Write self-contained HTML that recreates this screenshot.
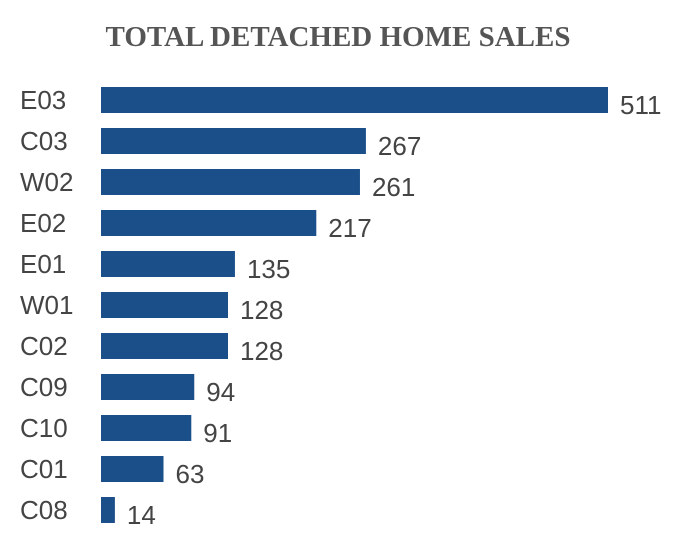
<!DOCTYPE html>
<html><head><meta charset="utf-8">
<style>
html,body{margin:0;padding:0;background:#fff;}
body{width:676px;height:545px;overflow:hidden;}
svg text{font-family:"Liberation Sans",sans-serif;}
</style></head>
<body>
<svg id="chart" width="676" height="545" xmlns="http://www.w3.org/2000/svg">
<text x="338" y="46" text-anchor="middle" style="font-family:'Liberation Serif',serif;font-weight:bold;font-size:29px;fill:#555;">TOTAL DETACHED HOME SALES</text>
<g id="bars"></g>
</svg>
<script>
const categories = ["E03","C03","W02","E02","E01","W01","C02","C09","C10","C01","C08"];
const values = [511,267,261,217,135,128,128,94,91,63,14];
const x0 = 101, pxPerUnit = 507/511;
function xScale(v){ return x0 + v*pxPerUnit; }
function yCenter(i){ return 100 + i*41; }
const g = document.getElementById('bars');
const ns = "http://www.w3.org/2000/svg";
categories.forEach((c,i)=>{
  const yc = yCenter(i);
  const lab = document.createElementNS(ns,'text');
  
  
  lab.setAttribute('x',20); lab.setAttribute('y',yc+9);
  lab.setAttribute('style','font-size:26px;fill:#444;');
  lab.textContent = c; g.appendChild(lab);
  const r = document.createElementNS(ns,'rect');
  
  
  r.setAttribute('x',x0); r.setAttribute('y',yc-13);
  r.setAttribute('width',xScale(values[i])-x0); r.setAttribute('height',26);
  r.setAttribute('fill','#1b4f8a'); g.appendChild(r);
  const v = document.createElementNS(ns,'text');
  
  
  v.setAttribute('x',xScale(values[i])+12); v.setAttribute('y',yc+14);
  v.setAttribute('style','font-size:26px;fill:#444;');
  v.textContent = values[i]; g.appendChild(v);
});
</script>
</body></html>
